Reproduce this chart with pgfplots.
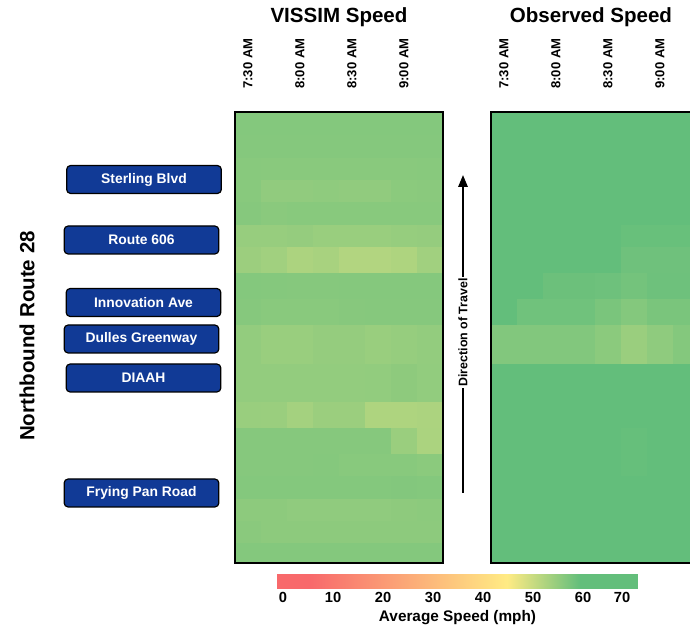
\documentclass[border=0pt]{standalone}
\usepackage{fontspec}
\setmainfont{Liberation Sans}
\usepackage{pgfplots}
\usepackage{pgfplotstable}
\pgfplotsset{compat=1.18}
\usetikzlibrary{arrows.meta}
\definecolor{boxblue}{RGB}{17,58,150}
\pgfplotsset{colormap={speed}{rgb255(0pt)=(248,105,107); rgb255(6.6pt)=(248,105,107); rgb255(46pt)=(255,235,132); rgb255(60.6pt)=(99,190,123); rgb255(72.2pt)=(99,190,123)}}

% corner grid: x = column boundary (0..8), y = row boundary in px from bottom; c = speed of the cell above-right of the corner
\pgfplotstableread[row sep=\\]{
x y c\\
0 0 56.3\\1 0 56.3\\2 0 56.3\\3 0 56.3\\4 0 56.3\\5 0 56.3\\6 0 56.3\\7 0 56.3\\8 0 56.3\\
0 21 55.75\\1 21 55.5\\2 21 55.5\\3 21 55.5\\4 21 55.5\\5 21 55.5\\6 21 55.5\\7 21 55.5\\8 21 55.5\\
0 43 55.5\\1 43 55.5\\2 43 55.2\\3 43 55.2\\4 43 55.2\\5 43 55.2\\6 43 55.4\\7 43 55.6\\8 43 55.6\\
0 65 56.3\\1 65 56.3\\2 65 56.3\\3 65 56.3\\4 65 56.3\\5 65 56.3\\6 65 56.4\\7 65 56.3\\8 65 56.3\\
0 88 56.1\\1 88 56.1\\2 88 56.1\\3 88 56.2\\4 88 55.9\\5 88 55.9\\6 88 55.9\\7 88 55.65\\8 88 55.65\\
0 110 56.1\\1 110 56.1\\2 110 56.1\\3 110 56.1\\4 110 56.1\\5 110 56.1\\6 110 54.25\\7 110 52.65\\8 110 52.65\\
0 136 54.35\\1 136 54.25\\2 136 53.3\\3 136 54.15\\4 136 54.15\\5 136 52.4\\6 136 52.4\\7 136 52.6\\8 136 52.6\\
0 162 54.9\\1 162 54.9\\2 162 54.9\\3 162 54.9\\4 162 54.9\\5 162 55.0\\6 162 55.4\\7 162 55.0\\8 162 55.0\\
0 200 54.9\\1 200 54.35\\2 200 54.35\\3 200 54.7\\4 200 54.7\\5 200 54.35\\6 200 54.6\\7 200 54.9\\8 200 54.9\\
0 239 56.1\\1 239 55.85\\2 239 55.85\\3 239 55.85\\4 239 56.0\\5 239 56.1\\6 239 56.1\\7 239 56.1\\8 239 56.1\\
0 265 56.3\\1 265 56.2\\2 265 56.1\\3 265 56.1\\4 265 56.2\\5 265 56.2\\6 265 56.2\\7 265 56.2\\8 265 56.2\\
0 291 54.05\\1 291 53.6\\2 291 52.6\\3 291 52.95\\4 291 52.0\\5 291 52.0\\6 291 52.4\\7 291 53.6\\8 291 53.6\\
0 317 54.5\\1 317 54.5\\2 317 54.7\\3 317 54.35\\4 317 54.35\\5 317 54.35\\6 317 54.6\\7 317 54.7\\8 317 54.7\\
0 339 56.1\\1 339 55.75\\2 339 55.9\\3 339 55.9\\4 339 55.9\\5 339 55.9\\6 339 55.9\\7 339 55.9\\8 339 55.9\\
0 362 55.9\\1 362 55.1\\2 362 55.1\\3 362 55.3\\4 362 55.1\\5 362 55.1\\6 362 55.65\\7 362 55.75\\8 362 55.75\\
0 384 55.9\\1 384 55.85\\2 384 55.85\\3 384 55.85\\4 384 55.85\\5 384 55.85\\6 384 55.85\\7 384 55.9\\8 384 55.9\\
0 406 56.2\\1 406 56.2\\2 406 56.2\\3 406 56.2\\4 406 56.2\\5 406 56.2\\6 406 56.2\\7 406 56.2\\8 406 56.2\\
0 429 56.3\\1 429 56.3\\2 429 56.3\\3 429 56.3\\4 429 56.3\\5 429 56.3\\6 429 56.3\\7 429 56.3\\8 429 56.3\\
0 451 56.3\\1 451 56.3\\2 451 56.3\\3 451 56.3\\4 451 56.3\\5 451 56.3\\6 451 56.3\\7 451 56.3\\8 451 56.3\\
}\vissim

\pgfplotstableread[row sep=\\]{
x y c\\
0 0 63\\1 0 63\\2 0 63\\3 0 63\\4 0 63\\5 0 63\\6 0 63\\7 0 63\\8 0 63\\
0 21 63\\1 21 63\\2 21 63\\3 21 63\\4 21 63\\5 21 63\\6 21 63\\7 21 63\\8 21 63\\
0 43 63\\1 43 63\\2 43 63\\3 43 63\\4 43 63\\5 43 63\\6 43 63\\7 43 63\\8 43 63\\
0 65 63\\1 65 63\\2 65 63\\3 65 63\\4 65 63\\5 65 63\\6 65 63\\7 65 63\\8 65 63\\
0 88 63\\1 88 63\\2 88 63\\3 88 63\\4 88 63\\5 88 59.1\\6 88 63\\7 88 63\\8 88 63\\
0 110 63\\1 110 63\\2 110 63\\3 110 63\\4 110 63\\5 110 59.1\\6 110 63\\7 110 63\\8 110 63\\
0 136 63\\1 136 63\\2 136 63\\3 136 63\\4 136 63\\5 136 63\\6 136 63\\7 136 63\\8 136 63\\
0 162 63\\1 162 63\\2 162 63\\3 162 63\\4 162 63\\5 162 63\\6 162 63\\7 162 63\\8 162 63\\
0 200 56.5\\1 200 56.5\\2 200 56.5\\3 200 56.5\\4 200 55.65\\5 200 54.25\\6 200 55.3\\7 200 56.3\\8 200 56.3\\
0 239 63\\1 239 58.2\\2 239 58.2\\3 239 58.2\\4 239 57.25\\5 239 56.3\\6 239 57.25\\7 239 57.25\\8 239 57.25\\
0 265 63\\1 265 63\\2 265 58.6\\3 265 58.6\\4 265 58.4\\5 265 57.8\\6 265 58.4\\7 265 58.4\\8 265 58.4\\
0 291 63\\1 291 63\\2 291 63\\3 291 63\\4 291 63\\5 291 58.3\\6 291 58.3\\7 291 58.3\\8 291 58.3\\
0 317 63\\1 317 63\\2 317 63\\3 317 63\\4 317 63\\5 317 58.9\\6 317 58.9\\7 317 58.9\\8 317 58.9\\
0 339 63\\1 339 63\\2 339 63\\3 339 63\\4 339 63\\5 339 63\\6 339 63\\7 339 63\\8 339 63\\
0 362 63\\1 362 63\\2 362 63\\3 362 63\\4 362 63\\5 362 63\\6 362 63\\7 362 63\\8 362 63\\
0 384 63\\1 384 63\\2 384 63\\3 384 63\\4 384 63\\5 384 63\\6 384 63\\7 384 63\\8 384 63\\
0 406 63\\1 406 63\\2 406 63\\3 406 63\\4 406 63\\5 406 63\\6 406 63\\7 406 63\\8 406 63\\
0 429 63\\1 429 63\\2 429 63\\3 429 63\\4 429 63\\5 429 63\\6 429 63\\7 429 63\\8 429 63\\
0 451 63\\1 451 63\\2 451 63\\3 451 63\\4 451 63\\5 451 63\\6 451 63\\7 451 63\\8 451 63\\
}\observed

\pgfplotsset{
  heat/.style={anchor=south west, scale only axis, width=156pt, height=338.25pt,
    view={0}{90}, xmin=0, xmax=8, ymin=0, ymax=451, zmin=-1, zmax=1, hide axis,
    colormap name=speed, point meta min=-1.2, point meta max=71},
  frame/.style={anchor=south west, scale only axis, width=156pt, height=338.25pt,
    xmin=0, xmax=8, ymin=0, ymax=451, axis line style={line width=1.75pt},
    xtick={0.5,2.5,4.5,6.5}, xticklabels={7:30 AM,8:00 AM,8:30 AM,9:00 AM},
    xticklabel pos=right, ytick=\empty, major tick length=0pt, tick style={draw=none},
    xticklabel style={rotate=90, anchor=west, font=\fontsize{9.8}{10}\selectfont\bfseries},
    xticklabel shift=14pt}
}
\tikzset{
  lab/.style={draw=black, line width=0.9pt, fill=boxblue, rounded corners=3pt,
    minimum width=116pt, minimum height=21pt, text=white, inner sep=0pt,
    font=\fontsize{10.4}{11}\selectfont\bfseries}
}

\begin{document}
\begin{tikzpicture}

% VISSIM panel
\begin{axis}[heat, at={(176.25pt,-422.25pt)}]
\addplot3[surf, shader=flat corner, mesh/rows=19, mesh/cols=9, point meta=explicit] table[x=x, y=y, z expr=0, meta=c] {\vissim};
\end{axis}
\begin{axis}[frame, at={(176.25pt,-422.25pt)}]
\end{axis}

% Observed panel
\begin{axis}[heat, at={(368.25pt,-422.25pt)}]
\addplot3[surf, shader=flat corner, mesh/rows=19, mesh/cols=9, point meta=explicit] table[x=x, y=y, z expr=0, meta=c] {\observed};
\end{axis}
\begin{axis}[frame, at={(368.25pt,-422.25pt)}]
\end{axis}

% colour bar
\begin{axis}[at={(207.75pt,-441.75pt)}, anchor=south west, scale only axis, width=270.75pt, height=11.25pt,
  xmin=-1.2, xmax=71, ymin=0, ymax=1, colormap name=speed, point meta min=-1.2, point meta max=71,
  axis line style={draw=none}, tick style={draw=none}, ytick=\empty,
  xtick={0,10,20,30,40,50,60,67.8}, xticklabels={0,10,20,30,40,50,60,70},
  xticklabel style={font=\fontsize{11}{12}\selectfont\bfseries, yshift=1pt},
  xlabel={Average Speed (mph)}, xlabel style={font=\fontsize{11.5}{12}\selectfont\bfseries, yshift=1pt}]
\addplot[patch, patch type=rectangle, shader=interp, point meta=x] coordinates {
 (-1.2,0) (5.4,0) (5.4,1) (-1.2,1)
 (5.4,0) (44.8,0) (44.8,1) (5.4,1)
 (44.8,0) (59.4,0) (59.4,1) (44.8,1)
 (59.4,0) (71,0) (71,1) (59.4,1)};
\end{axis}

% titles
\node[font=\fontsize{15.4}{16}\selectfont\bfseries] at (254.25pt,-12.75pt) {VISSIM Speed};
\node[font=\fontsize{15.4}{16}\selectfont\bfseries] at (443.25pt,-12.75pt) {Observed Speed};
\node[rotate=90, font=\fontsize{15.4}{16}\selectfont\bfseries] at (20.25pt,-252pt) {Northbound Route 28};

% location labels
\node[lab] at (108pt,-134.625pt) {Sterling Blvd};
\node[lab] at (106.125pt,-180pt) {Route 606};
\node[lab] at (107.625pt,-226.875pt) {Innovation Ave};
\node[lab] at (106.125pt,-254.25pt) {Dulles Greenway};
\node[lab] at (107.625pt,-283.5pt) {DIAAH};
\node[lab] at (106.125pt,-369.75pt) {Frying Pan Road};

% direction arrow
\draw[line width=1.5pt, -{Triangle[length=9pt, width=7pt]}] (347.25pt,-369.75pt) -- (347.25pt,-131.25pt);
\node[rotate=90, fill=white, inner sep=1pt, font=\fontsize{9.3}{10}\selectfont\bfseries] at (347.25pt,-249.375pt) {Direction of Travel};

\pgfresetboundingbox
\path[use as bounding box] (0pt,0pt) rectangle (517.5pt,-472.5pt);
\end{tikzpicture}
\end{document}
